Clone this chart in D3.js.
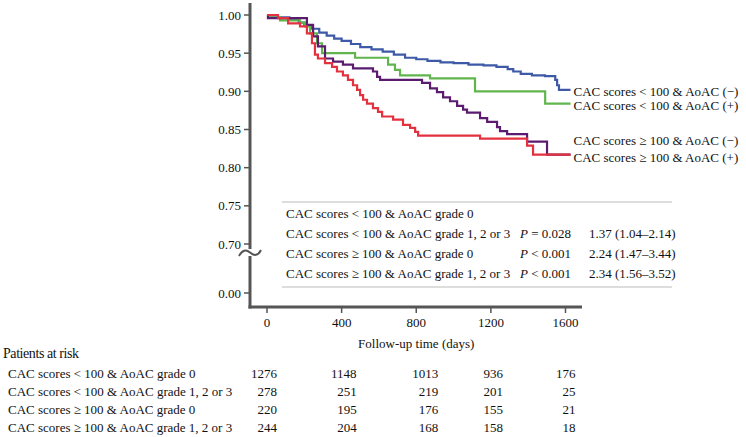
<!DOCTYPE html>
<html>
<head>
<meta charset="utf-8">
<script src="https://cdn.jsdelivr.net/npm/d3@7"></script>
<style>
html,body{margin:0;padding:0;background:#fff;}
svg{display:block;font-family:"Liberation Serif","Times New Roman",serif;}
</style>
</head>
<body>
<svg id="chart" width="746" height="437"></svg>
<script>
// ---------------- DATA ----------------
const timeTicks = [0, 400, 800, 1200, 1600];
const survTicks = [1.00, 0.95, 0.90, 0.85, 0.80, 0.75, 0.70, 0.00];

const seriesNames = [
  "CAC scores < 100 & AoAC (\u2212)",
  "CAC scores < 100 & AoAC (+)",
  "CAC scores \u2265 100 & AoAC (\u2212)",
  "CAC scores \u2265 100 & AoAC (+)"
];

const blueDays = [0, 20, 120, 170, 200, 240, 280, 320, 360, 400, 450, 500, 560, 620, 680, 740, 800, 860, 930, 1000, 1080, 1160, 1230, 1290, 1320, 1360, 1420, 1490, 1545, 1555, 1565, 1627];
const blueSurv = [1.000, 0.997, 0.995, 0.990, 0.986, 0.982, 0.977, 0.973, 0.969, 0.966, 0.962, 0.958, 0.955, 0.952, 0.948, 0.944, 0.942, 0.940, 0.938, 0.937, 0.935, 0.934, 0.932, 0.929, 0.926, 0.923, 0.921, 0.920, 0.915, 0.908, 0.902, 0.902];

const greenDays = [0, 16, 70, 177, 204, 231, 268, 295, 472, 649, 686, 713, 874, 1115, 1491, 1627];
const greenSurv = [1.000, 0.997, 0.993, 0.990, 0.985, 0.976, 0.963, 0.950, 0.944, 0.935, 0.928, 0.921, 0.917, 0.900, 0.884, 0.884];

const purpleDays = [0, 5, 177, 214, 247, 273, 311, 354, 407, 461, 568, 590, 606, 831, 874, 911, 944, 981, 1019, 1051, 1072, 1142, 1180, 1233, 1249, 1287, 1394, 1501, 1627];
const purpleSurv = [1.000, 0.996, 0.996, 0.987, 0.972, 0.959, 0.943, 0.939, 0.935, 0.930, 0.926, 0.919, 0.915, 0.911, 0.904, 0.899, 0.892, 0.887, 0.881, 0.876, 0.872, 0.865, 0.860, 0.853, 0.848, 0.844, 0.834, 0.817, 0.817];

const redDays = [0, 59, 113, 177, 214, 241, 257, 273, 311, 349, 375, 407, 434, 461, 483, 499, 515, 536, 568, 595, 617, 676, 729, 767, 794, 810, 1142, 1394, 1426, 1627];
const redSurv = [1.000, 0.996, 0.989, 0.985, 0.976, 0.963, 0.948, 0.943, 0.937, 0.932, 0.926, 0.921, 0.915, 0.908, 0.902, 0.895, 0.889, 0.884, 0.878, 0.873, 0.867, 0.863, 0.856, 0.852, 0.847, 0.842, 0.838, 0.829, 0.817, 0.817];

const groupLabels = [
  "CAC scores < 100 & AoAC grade 0",
  "CAC scores < 100 & AoAC grade 1, 2 or 3",
  "CAC scores \u2265 100 & AoAC grade 0",
  "CAC scores \u2265 100 & AoAC grade 1, 2 or 3"
];
const pOps = ["", "=", "<", "<"];
const pValues = ["", "0.028", "0.001", "0.001"];
const hrText = ["", "1.37 (1.04\u20132.14)", "2.24 (1.47\u20133.44)", "2.34 (1.56\u20133.52)"];

const riskTimes = [0, 400, 800, 1200, 1600];
const riskRow1 = [1276, 1148, 1013, 936, 176];
const riskRow2 = [278, 251, 219, 201, 25];
const riskRow3 = [220, 195, 176, 155, 21];
const riskRow4 = [244, 204, 168, 158, 18];

// ---------------- LAYOUT ----------------
const colors = ["#3d59a8", "#60b54d", "#5b1c70", "#e3313f"];
const labelDy = [6, 6.5, -10, 7];
const riskOffset = [10, 15, 22, 12, 10];
const FS = 13;
const axisColor = "#555";
const textColor = "#111";

const svg = d3.select("#chart");
const x = d3.scaleLinear().domain([0, 1600]).range([267, 565.5]);
const y = d3.scaleLinear().domain([0, 0.70, 1.0]).range([293, 244, 15]);

// y axis (with break)
svg.append("line").attr("x1", 250).attr("x2", 250).attr("y1", 3).attr("y2", 249)
  .attr("stroke", axisColor).attr("stroke-width", 3);
svg.append("line").attr("x1", 250).attr("x2", 250).attr("y1", 256).attr("y2", 308.5)
  .attr("stroke", axisColor).attr("stroke-width", 3);
svg.append("path")
  .attr("d", "M239,256 C242,250 246,249 250,252.5 C254,256 258,256 261,250")
  .attr("fill", "none").attr("stroke", axisColor).attr("stroke-width", 2);
// x axis
svg.append("line").attr("x1", 248.5).attr("x2", 582).attr("y1", 307).attr("y2", 307)
  .attr("stroke", axisColor).attr("stroke-width", 3);

// y ticks
const yt = svg.append("g");
survTicks.forEach(v => {
  yt.append("line").attr("x1", 244).attr("x2", 250).attr("y1", y(v)).attr("y2", y(v))
    .attr("stroke", axisColor).attr("stroke-width", 1.5);
  yt.append("text").attr("x", 241).attr("y", y(v) + 4.5).attr("text-anchor", "end")
    .attr("font-size", FS).attr("fill", textColor).text(d3.format(".2f")(v));
});
// x ticks
timeTicks.forEach(t => {
  svg.append("line").attr("x1", x(t)).attr("x2", x(t)).attr("y1", 307).attr("y2", 313)
    .attr("stroke", axisColor).attr("stroke-width", 1.5);
  svg.append("text").attr("x", x(t)).attr("y", 326.5).attr("text-anchor", "middle")
    .attr("font-size", FS).attr("fill", textColor).text(t);
});
svg.append("text").attr("x", x(800)).attr("y", 347.5).attr("text-anchor", "middle")
  .attr("font-size", FS).attr("fill", textColor).text("Follow-up time (days)");

// curves
const series = [
  {days: blueDays, surv: blueSurv},
  {days: greenDays, surv: greenSurv},
  {days: purpleDays, surv: purpleSurv},
  {days: redDays, surv: redSurv}
];
const line = d3.line().x(d => x(d[0])).y(d => y(d[1])).curve(d3.curveStepAfter);
series.forEach((s, i) => {
  const pts = s.days.map((d, j) => [d, s.surv[j]]);
  svg.append("path").attr("d", line(pts)).attr("fill", "none")
    .attr("stroke", colors[i]).attr("stroke-width", 2.2).attr("stroke-linejoin", "miter");
});
// end labels
series.forEach((s, i) => {
  const last = s.days.length - 1;
  svg.append("text").attr("x", x(s.days[last]) + 3).attr("y", y(s.surv[last]) + labelDy[i])
    .attr("font-size", FS).attr("fill", textColor).text(seriesNames[i]);
});

// inner table
const tTop = 202, tBot = 287, tL = 282, tR = 672;
svg.append("line").attr("x1", tL).attr("x2", tR).attr("y1", tTop).attr("y2", tTop)
  .attr("stroke", "#bbb").attr("stroke-width", 1);
svg.append("line").attr("x1", tL).attr("x2", tR).attr("y1", tBot).attr("y2", tBot)
  .attr("stroke", "#bbb").attr("stroke-width", 1);
groupLabels.forEach((g, i) => {
  const yy = 217.5 + i * 20.3;
  svg.append("text").attr("x", 286).attr("y", yy).attr("font-size", FS).attr("fill", textColor).text(g);
  if (pValues[i]) {
    const t = svg.append("text").attr("x", 571).attr("y", yy).attr("text-anchor", "end")
      .attr("font-size", FS).attr("fill", textColor);
    t.append("tspan").attr("font-style", "italic").text("P");
    t.append("tspan").text(" " + pOps[i] + " " + pValues[i]);
    svg.append("text").attr("x", 589).attr("y", yy).attr("font-size", FS).attr("fill", textColor).text(hrText[i]);
  }
});

// patients at risk
svg.append("text").attr("x", 3).attr("y", 357.5).attr("font-size", 14)
  .attr("textLength", 76).attr("lengthAdjust", "spacing")
  .attr("fill", textColor).text("Patients at risk");
const riskRows = [riskRow1, riskRow2, riskRow3, riskRow4];
riskRows.forEach((row, i) => {
  const yy = 377.5 + i * 18;
  svg.append("text").attr("x", 8).attr("y", yy).attr("font-size", FS).attr("fill", textColor).text(groupLabels[i]);
  row.forEach((v, j) => {
    svg.append("text").attr("x", x(riskTimes[j]) + riskOffset[j]).attr("y", yy)
      .attr("text-anchor", "end").attr("font-size", FS).attr("fill", textColor).text(v);
  });
});
</script>
</body>
</html>
